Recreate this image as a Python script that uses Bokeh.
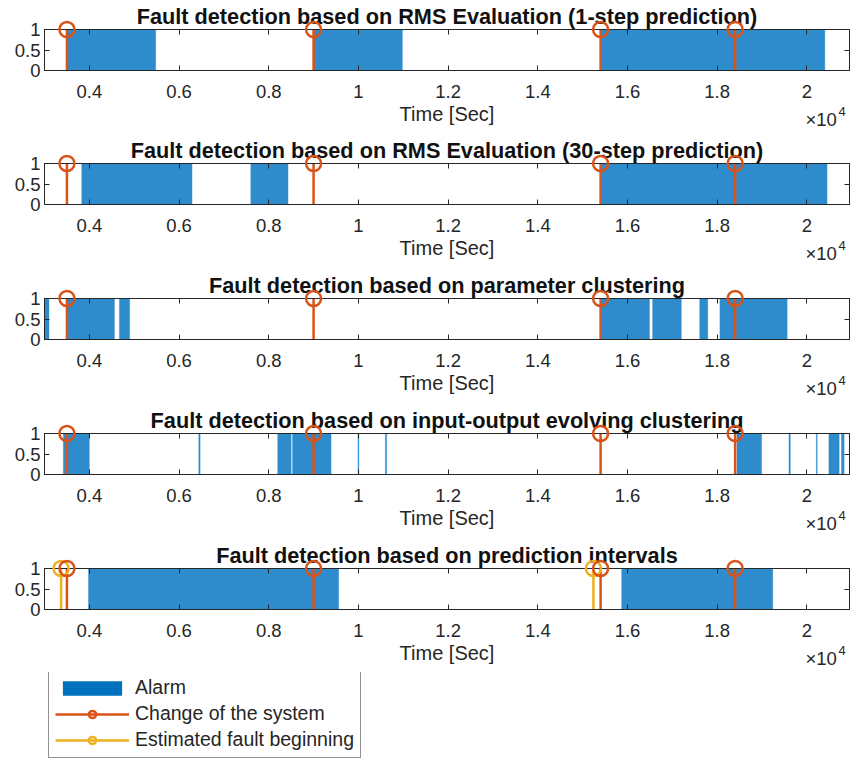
from bokeh.plotting import figure
from bokeh.layouts import column
from bokeh.models import (ColumnDataSource, FixedTicker, CustomJSTickFormatter, Range1d,
                          LinearAxis, Legend, LegendItem)
from bokeh.core.properties import value
from bokeh.embed import file_html
from bokeh.resources import INLINE

# ---------------- data ----------------
titles = [
    "Fault detection based on RMS Evaluation (1-step prediction)",
    "Fault detection based on RMS Evaluation (30-step prediction)",
    "Fault detection based on parameter clustering",
    "Fault detection based on input-output evolving clustering",
    "Fault detection based on prediction intervals",
]

# alarm intervals (seconds), one pair of lists per subplot
alarm_start_1 = [3520, 9000, 15420]
alarm_end_1 = [5480, 10980, 20400]

alarm_start_2 = [3830, 7600, 15420]
alarm_end_2 = [6290, 8430, 20450]

alarm_start_3 = [3000, 3520, 4670, 15420, 16560, 17610, 18060]
alarm_end_3 = [3100, 4560, 4900, 16490, 17200, 17790, 19560]

alarm_start_4 = [3420, 6440, 8200, 8530, 9990, 10600, 18440, 19600, 20210, 20490, 20770]
alarm_end_4 = [4000, 6470, 8500, 9390, 10010, 10630, 18990, 19630, 20230, 20720, 20830]

alarm_start_5 = [3980, 15870]
alarm_end_5 = [9560, 19240]

alarm_starts = [alarm_start_1, alarm_start_2, alarm_start_3, alarm_start_4, alarm_start_5]
alarm_ends = [alarm_end_1, alarm_end_2, alarm_end_3, alarm_end_4, alarm_end_5]

change_times = [3500, 9000, 15400, 18400]
change_values = [1, 1, 1, 1]

estimated_fault_times = [3370, 15240]     # only on the last subplot
estimated_fault_values = [1, 1]

x_ticks = [4000, 6000, 8000, 10000, 12000, 14000, 16000, 18000, 20000]
y_ticks = [0, 0.5, 1]
y_tick_labels = {0: "0", 0.5: "0.5", 1: "1"}
x_min, x_max = 3000, 20950
x_label = "Time [Sec]"
exponent_base, exponent_power = "×10", "4"
legend_labels = ["Alarm", "Change of the system", "Estimated fault beginning"]

# ---------------- style ----------------
BLUE = "#2e8bcc"
BLUE_LEGEND = "#0072BD"
RED = "#D95319"
YELLOW = "#EDB120"
AX = "#262626"
FONT = "Liberation Sans"

heights = [134, 135, 135, 134, 134]
TOP = 29
FRAME_H = 41

fmt = CustomJSTickFormatter(code="return (tick/1e4).toString();")


def make_panel(i):
    h = heights[i]
    top = TOP if i < 4 else TOP + 1
    p = figure(width=851, height=h, x_range=Range1d(x_min, x_max), y_range=Range1d(0, 1),
               output_backend="svg", toolbar_location=None,
               min_border_left=44, min_border_right=2,
               min_border_top=top, min_border_bottom=h - top - FRAME_H,
               title=titles[i])
    p.title.text_font = FONT
    p.title.text_font_size = "21.7px"
    p.title.text_font_style = "bold"
    p.title.text_color = "#111111"
    p.title.align = "center"
    p.title.standoff = 2
    p.title.offset = 0

    p.xgrid.visible = False
    p.ygrid.visible = False
    p.outline_line_color = AX
    p.outline_line_width = 1
    p.outline_line_alpha = 1
    p.background_fill_color = "white"

    xa = p.xaxis[0]
    xa.ticker = FixedTicker(ticks=x_ticks)
    xa.formatter = fmt
    xa.axis_label = x_label
    xa.axis_label_text_font = FONT
    xa.axis_label_text_font_size = "20px"
    xa.axis_label_text_font_style = "normal"
    xa.axis_label_text_color = AX
    xa.axis_label_standoff = 2
    xa.major_label_text_font = FONT
    xa.major_label_text_font_size = "18.5px"
    xa.major_label_text_color = AX
    xa.major_label_standoff = 14
    xa.major_tick_in = 5
    xa.major_tick_out = 0
    xa.minor_tick_line_color = None
    xa.axis_line_color = AX
    xa.major_tick_line_color = AX

    ya = p.yaxis[0]
    ya.ticker = FixedTicker(ticks=y_ticks)
    ya.major_label_overrides = y_tick_labels
    ya.major_label_text_font = FONT
    ya.major_label_text_font_size = "18.5px"
    ya.major_label_text_color = AX
    ya.major_label_standoff = 4
    ya.major_tick_in = 5
    ya.major_tick_out = 0
    ya.minor_tick_line_color = None
    ya.axis_line_color = AX
    ya.major_tick_line_color = AX

    # mirrored ticks (box on), without labels
    ra = LinearAxis(ticker=FixedTicker(ticks=y_ticks), major_label_text_font_size="1px",
                    major_label_text_color=None, major_label_standoff=0,
                    major_tick_in=5, major_tick_out=0,
                    minor_tick_line_color=None, axis_line_color=AX, major_tick_line_color=AX)
    p.add_layout(ra, "right")
    ta = LinearAxis(ticker=FixedTicker(ticks=x_ticks), major_label_text_font_size="1px",
                    major_label_text_color=None, major_label_standoff=0,
                    major_tick_in=5, major_tick_out=0,
                    minor_tick_line_color=None, axis_line_color=AX, major_tick_line_color=AX)
    p.add_layout(ta, "above")

    src = ColumnDataSource(dict(left=alarm_starts[i], right=alarm_ends[i]))
    p.quad(left="left", right="right", bottom=0, top=1, source=src,
           fill_color=BLUE, line_color=BLUE, line_width=0.6, line_alpha=0.6)

    stems = [(change_times, change_values, RED)]
    if i == 4:
        stems = [(estimated_fault_times, estimated_fault_values, YELLOW)] + stems
    for xs, vs, col in stems:
        s = ColumnDataSource(dict(x=xs, v=vs))
        p.segment(x0="x", y0=0, x1="x", y1="v", source=s, line_color=col, line_width=2.5)
        p.scatter(x="x", y="v", source=s, marker="circle", size=15, fill_color=None,
                  line_color=col, line_width=2.5, level="overlay")

    # axis exponent "×10^4" at the lower right corner of the axes
    p.text(x=[x_max], y=[0], text=[exponent_base], x_offset=-44, y_offset=49,
           text_font=value(FONT), text_font_size=value("18.5px"), text_color=AX,
           text_baseline="middle", text_align="left", level="overlay")
    p.text(x=[x_max], y=[0], text=[exponent_power], x_offset=-11, y_offset=41,
           text_font=value(FONT), text_font_size=value("13px"), text_color=AX,
           text_baseline="middle", text_align="left", level="overlay")
    return p


panels = [make_panel(i) for i in range(5)]

# ---------------- legend ----------------
lf = figure(width=851, height=88, x_range=Range1d(0, 1), y_range=Range1d(0, 1),
            output_backend="svg", toolbar_location=None, min_border=0,
            x_axis_location=None, y_axis_location=None)
lf.xgrid.visible = False
lf.ygrid.visible = False
lf.outline_line_color = None
# legend keys use the real series (they fall outside this panel's ranges)
r_alarm = lf.quad(left=alarm_start_5, right=alarm_end_5, bottom=0, top=1,
                  fill_color=BLUE_LEGEND, line_color=None)
r_cl = lf.line(x=change_times, y=change_values, line_color=RED, line_width=2.5)
r_cm = lf.scatter(x=change_times, y=change_values, marker="circle", size=13,
                  fill_color=None, line_color=RED, line_width=2.5)
r_yl = lf.line(x=estimated_fault_times, y=estimated_fault_values, line_color=YELLOW, line_width=2.5)
r_ym = lf.scatter(x=estimated_fault_times, y=estimated_fault_values, marker="circle", size=13,
                  fill_color=None, line_color=YELLOW, line_width=2.5)
legend = Legend(items=[LegendItem(label=legend_labels[0], renderers=[r_alarm]),
                       LegendItem(label=legend_labels[1], renderers=[r_cl, r_cm]),
                       LegendItem(label=legend_labels[2], renderers=[r_yl, r_ym])],
                location=(4, 2), margin=0, padding=6, spacing=3,
                glyph_width=74, glyph_height=18, label_height=22, label_standoff=6,
                label_text_font=FONT, label_text_font_size="19.5px", label_text_color=AX,
                border_line_color=AX, border_line_width=1, background_fill_color="white",
                background_fill_alpha=1)
lf.add_layout(legend, "center")

layout = column(*panels, lf, spacing=0)
open("out.html", "w").write(file_html(layout, INLINE))
